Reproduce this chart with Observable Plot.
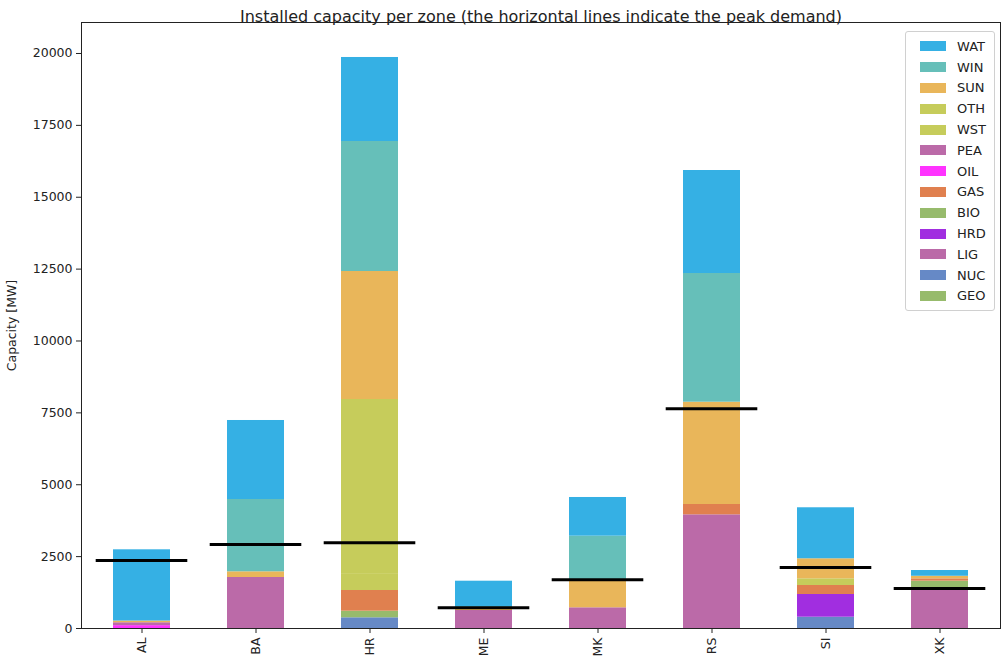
<!DOCTYPE html>
<html>
<head>
<meta charset="utf-8">
<script src="https://cdn.jsdelivr.net/npm/d3@7"></script>
<script src="https://cdn.jsdelivr.net/npm/@observablehq/plot@0.6"></script>
<style>
  html, body { margin: 0; padding: 0; background: #fff; }
  body { width: 1004px; height: 664px; position: relative; overflow: hidden; font-family: "DejaVu Sans", sans-serif; }
  #chart { position: absolute; left: 0; top: 0; }
  #legend { position: absolute; left: 905px; top: 31px; width: 90px; box-sizing: border-box;
    border: 1px solid #d0d0d0; border-radius: 3px; background: rgba(255,255,255,0.85); padding: 4px 0 4px 0; }
  .item { display: flex; align-items: center; height: 20.8px; font-size: 13px; color: #222; }
  .sw { width: 26px; height: 10px; margin-left: 14px; margin-right: 11px; }
</style>
</head>
<body>
<div id="chart"></div>
<div id="legend"></div>
<script>
const zones = ["AL", "BA", "HR", "ME", "MK", "RS", "SI", "XK"];
// stacking order, bottom to top
const techs = ["GEO", "NUC", "LIG", "HRD", "BIO", "GAS", "OIL", "PEA", "WST", "OTH", "SUN", "WIN", "WAT"];
const techColors = ["#97bb6c", "#6689c6", "#bb6aa8", "#a12ee0", "#97bb6c", "#e0804f", "#ff33ff", "#bb6aa8", "#c6cc5b", "#c6cc5b", "#e9b65a", "#66bfb9", "#35b0e4"];

// installed capacity per technology, MW, in zone order
const GEO = [0, 0, 0, 0, 0, 0, 0, 0];
const NUC = [0, 0, 372, 0, 0, 0, 393, 0];
const LIG = [0, 1774, 0, 626, 720, 3954, 0, 1357];
const HRD = [0, 0, 0, 0, 0, 0, 790, 0];
const BIO = [0, 0, 230, 0, 0, 0, 0, 290];
const GAS = [0, 0, 720, 0, 0, 359, 313, 80];
const OIL = [100, 0, 0, 0, 0, 0, 0, 0];
const PEA = [100, 0, 0, 0, 0, 0, 0, 0];
const WST = [0, 0, 560, 0, 0, 0, 0, 0];
const OTH = [0, 0, 6083, 0, 0, 0, 233, 0];
const SUN = [60, 198, 4452, 80, 930, 3558, 696, 90];
const WIN = [0, 2515, 4522, 60, 1561, 4477, 0, 0];
const WAT = [2477, 2748, 2922, 879, 1346, 3582, 1774, 200];

// peak demand, MW
const peakDemand = [2365, 2922, 2985, 720, 1693, 7641, 2122, 1391];

const yTicks = [0, 2500, 5000, 7500, 10000, 12500, 15000, 17500, 20000];

const series = {GEO, NUC, LIG, HRD, BIO, GAS, OIL, PEA, WST, OTH, SUN, WIN, WAT};
const rows = [];
for (const t of techs) zones.forEach((z, i) => rows.push({zone: z, tech: t, value: series[t][i]}));
const demand = zones.map((z, i) => ({zone: z, value: peakDemand[i]}));

const chart = Plot.plot({
  width: 1004,
  height: 664,
  marginLeft: 81,
  marginRight: 4,
  marginTop: 22,
  marginBottom: 36,
  style: {fontFamily: "DejaVu Sans, sans-serif", fontSize: "12.5px", color: "#222", overflow: "visible"},
  x: {domain: zones, paddingInner: 0.5, paddingOuter: 0.25, label: null},
  y: {domain: [0, 21078], label: null},
  color: {domain: techs, range: techColors},
  marks: [
    Plot.barY(rows, {x: "zone", y: "value", fill: "tech", order: techs}),
    Plot.tickY(demand, {x: "zone", y: "value", stroke: "black", strokeWidth: 3, insetLeft: -17.3, insetRight: -17.3}),
    Plot.frame({stroke: "#222", strokeWidth: 1}),
    Plot.axisY({ticks: yTicks, tickFormat: d3.format("d"), tickSize: 5, tickPadding: 4, fontSize: 12.5,
      label: "Capacity [MW]", labelAnchor: "center", labelArrow: "none", labelOffset: 74}),
    Plot.axisX({tickRotate: -90, tickSize: 5, tickPadding: 4, fontSize: 12.5, label: null}),
    Plot.text(["Installed capacity per zone (the horizontal lines indicate the peak demand)"],
      {frameAnchor: "top", dy: -12, fontSize: 16, fill: "#222", text: d => d})
  ]
});
document.getElementById("chart").appendChild(chart);

const legend = document.getElementById("legend");
techs.slice().reverse().forEach(t => {
  const item = document.createElement("div");
  item.className = "item";
  const sw = document.createElement("div");
  sw.className = "sw";
  sw.style.background = techColors[techs.indexOf(t)];
  const lab = document.createElement("span");
  lab.textContent = t;
  item.appendChild(sw);
  item.appendChild(lab);
  legend.appendChild(item);
});
</script>
</body>
</html>
